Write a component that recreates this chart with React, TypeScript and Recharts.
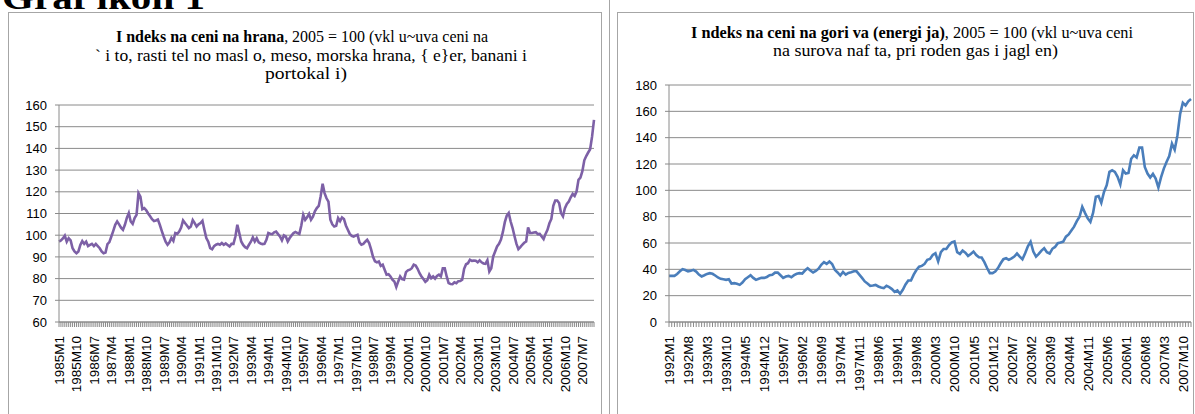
import React from 'react';
import { LineChart, Line, XAxis, YAxis, CartesianGrid } from 'recharts';

// Food price index, 2005 = 100, monthly from 1985M1 (one row per year)
const foodIndex = [
  97.1, 97.6, 98.5, 99.8, 97.0, 98.6, 97.6, 94.0, 92.5, 91.7, 92.5, 95.5,
  97.3, 96.0, 97.0, 95.0, 95.5, 96.0, 95.0, 96.0, 95.0, 94.0, 92.5, 91.7,
  92.0, 95.9, 96.8, 99.4, 102.0, 104.8, 106.3, 105.0, 103.5, 102.5, 104.8, 108.0,
  110.2, 106.3, 105.2, 107.9, 109.4, 119.4, 117.8, 112.0, 112.5, 111.5, 110.0, 108.7,
  107.4, 106.5, 106.8, 107.2, 104.8, 102.0, 99.4, 97.0, 95.6, 96.7, 98.7, 97.4,
  101.0, 100.6, 101.7, 103.5, 106.8, 105.6, 104.5, 103.3, 104.0, 107.0, 105.6, 104.0,
  105.0, 105.6, 106.6, 102.5, 98.7, 97.0, 94.0, 93.5, 95.0, 95.6, 96.0, 95.6,
  96.4, 95.6, 96.2, 95.5, 94.8, 96.0, 96.0, 99.4, 104.8, 101.0, 97.1, 95.5,
  94.5, 94.0, 95.6, 97.0, 99.0, 97.1, 98.6, 96.7, 96.2, 95.9, 96.0, 97.9,
  101.0, 100.7, 100.5, 101.3, 101.7, 100.5, 99.4, 97.6, 99.9, 99.4, 97.1, 98.7,
  99.9, 101.0, 101.5, 101.0, 100.6, 104.5, 109.4, 107.1, 108.3, 109.8, 107.1, 108.5,
  111.0, 112.5, 113.5, 118.0, 123.7, 119.4, 117.0, 115.5, 107.1, 105.0, 104.0, 104.3,
  107.9, 106.5, 108.2, 107.5, 104.5, 102.5, 100.6, 99.7, 99.4, 99.8, 100.2, 96.7,
  95.6, 96.0, 97.0, 97.9, 96.4, 93.5, 90.0, 88.0, 87.5, 87.9, 85.9, 86.4,
  84.1, 81.8, 82.0, 81.0, 79.5, 78.7, 76.1, 78.7, 81.0, 79.8, 79.5, 83.0,
  83.8, 84.1, 84.8, 86.4, 86.0, 84.5, 82.5, 81.0, 79.8, 78.5, 79.2, 81.8,
  80.2, 81.0, 80.0, 81.2, 81.8, 81.0, 84.8, 84.8, 81.0, 77.9, 77.5, 77.4,
  78.3, 77.9, 78.8, 78.9, 79.5, 84.5, 86.6, 87.1, 88.7, 88.2, 88.3, 88.2,
  87.5, 88.4, 87.5, 87.0, 86.8, 88.5, 83.3, 84.8, 90.2, 92.5, 94.8, 96.0,
  98.0, 101.5, 106.0, 109.0, 110.2, 106.3, 103.3, 99.5, 96.0, 93.6, 94.5, 95.6,
  96.5, 97.1, 103.6, 101.0, 101.0, 101.2, 101.4, 100.5, 100.6, 99.4, 98.2, 100.6,
  102.5, 105.5, 107.5, 113.5, 116.0, 116.0, 114.8, 110.2, 108.7, 112.5, 114.4, 115.5,
  117.5, 119.0, 118.1, 120.1, 125.5, 126.5, 129.5, 134.5, 136.5, 138.1, 139.6, 145.4,
  153.1,
];

// Energy price index, 2005 = 100, monthly from 1992M1 (one row per year)
const energyIndex = [
  35.0, 35.0, 35.0, 36.5, 38.5, 40.1, 39.5, 38.5, 39.0, 39.6, 38.3, 36.0,
  34.6, 35.5, 36.5, 37.1, 36.6, 35.3, 33.8, 32.8, 32.4, 32.0, 32.5, 29.2,
  29.5, 29.0, 28.2, 30.0, 32.5, 34.0, 35.5, 33.5, 32.0, 32.8, 33.5, 33.5,
  34.2, 35.5, 35.8, 37.5, 37.5, 35.5, 33.5, 34.5, 35.0, 34.0, 35.6, 36.6,
  37.1, 36.8, 39.1, 40.9, 39.1, 37.6, 38.8, 40.5, 43.5, 45.5, 44.1, 45.9,
  44.1, 39.6, 37.6, 35.3, 38.0, 36.0, 37.3, 37.8, 38.5, 38.5, 36.0, 33.5,
  30.8, 29.2, 27.5, 27.7, 28.2, 27.0, 26.2, 25.7, 27.5, 26.5, 25.0, 22.8,
  24.0, 21.4, 24.5, 28.5, 31.5, 31.5, 36.0, 39.5, 42.0, 42.6, 44.1, 47.2,
  47.9, 50.9, 52.2, 46.0, 53.0, 55.5, 55.5, 58.5, 60.5, 61.2, 53.0, 51.7,
  54.2, 52.7, 50.2, 51.7, 53.5, 50.9, 49.2, 49.0, 45.5, 41.0, 37.1, 37.1,
  38.3, 40.9, 44.6, 47.7, 48.4, 47.2, 48.4, 49.7, 52.0, 49.7, 47.7, 52.2,
  57.5, 61.0, 53.5, 49.7, 51.7, 54.2, 56.0, 53.0, 52.0, 55.6, 57.0, 59.8,
  60.3, 61.0, 64.8, 66.5, 69.5, 72.4, 76.6, 79.9, 87.5, 82.9, 78.7, 76.0,
  83.0, 95.1, 95.6, 90.5, 98.8, 103.9, 114.0, 115.2, 114.0, 110.2, 104.5, 115.2,
  112.7, 113.2, 124.0, 126.6, 125.0, 132.4, 132.4, 117.7, 112.7, 109.7, 112.5, 108.9,
  102.1, 110.0, 116.5, 121.5, 126.0, 135.4, 130.8, 141.7, 158.0, 166.5, 164.5, 167.6,
  169.4,
];

const foodTicks = [60, 70, 80, 90, 100, 110, 120, 130, 140, 150, 160];
const energyTicks = [0, 20, 40, 60, 80, 100, 120, 140, 160, 180];

const monthLabels = (startYear: number, count: number) =>
  Array.from({ length: count }, (_, i) => `${startYear + Math.floor(i / 12)}M${(i % 12) + 1}`);

const foodMonths = monthLabels(1985, foodIndex.length);
const energyMonths = monthLabels(1992, energyIndex.length);

const foodData = foodMonths.map((month, i) => ({ month, value: foodIndex[i] }));
const energyData = energyMonths.map((month, i) => ({ month, value: energyIndex[i] }));

const GRID = '#8a8a8a';
const SANS = '"Liberation Sans", Arial, sans-serif';
const SERIF = '"Liberation Serif", "Times New Roman", serif';

// every category gets a tick mark, only every n-th one gets a label
const MonthTick = (props: any) => {
  const { x, y, payload, every } = props;
  const idx = payload?.index ?? props.index;
  if (idx % every !== 0) return <g />;
  return (
    <text
      transform={`translate(${x + 5},${y + 7}) rotate(-90)`}
      textAnchor="end"
      fontSize={13.5}
      fontFamily={SANS}
      fill="#000"
    >
      {payload.value}
    </text>
  );
};

const yTick = { fontSize: 13, fill: '#000', fontFamily: SANS };

const App: React.FC = () => {
  return (
    <div style={{ position: 'absolute', left: 0, top: 0, width: 1195, height: 414, overflow: 'hidden', background: '#fff' }}>
      {/* frames */}
      <div style={{ position: 'absolute', left: 8, top: 12, width: 592, height: 420, border: '1px solid #a6a6a6' }} />
      <div style={{ position: 'absolute', left: 609, top: 0, width: 0, height: 414, borderLeft: '1px solid #a6a6a6' }} />
      <div style={{ position: 'absolute', left: 617, top: 12, width: 575, height: 420, border: '1px solid #a6a6a6' }} />

      <div style={{ position: 'absolute', left: 0, top: 0 }}>
        <LineChart width={600} height={414} data={foodData} margin={{ top: 105, right: 6, bottom: 0, left: 0 }}>
          <CartesianGrid vertical={false} stroke={GRID} />
          <XAxis
            dataKey="month"
            interval={0}
            height={92}
            tickSize={5}
            tickLine={{ stroke: GRID }}
            axisLine={{ stroke: GRID }}
            tick={(p: any) => <MonthTick {...p} every={9} />}
          />
          <YAxis
            width={59}
            domain={[60, 160]}
            ticks={foodTicks}
            interval={0}
            tickSize={4}
            tickMargin={8}
            tick={yTick}
            tickLine={{ stroke: GRID }}
            axisLine={{ stroke: GRID }}
          />
          <Line type="linear" dataKey="value" stroke="#7d60a6" strokeWidth={2.6} dot={false} isAnimationActive={false} />
        </LineChart>
      </div>

      <div style={{ position: 'absolute', left: 600, top: 0 }}>
        <LineChart width={595} height={414} data={energyData} margin={{ top: 85, right: 4, bottom: 0, left: 0 }}>
          <CartesianGrid vertical={false} stroke={GRID} />
          <XAxis
            dataKey="month"
            interval={0}
            height={92}
            tickSize={5}
            tickLine={{ stroke: GRID }}
            axisLine={{ stroke: GRID }}
            tick={(p: any) => <MonthTick {...p} every={7} />}
          />
          <YAxis
            width={69}
            domain={[0, 180]}
            ticks={energyTicks}
            interval={0}
            tickSize={4}
            tickMargin={8}
            tick={yTick}
            tickLine={{ stroke: GRID }}
            axisLine={{ stroke: GRID }}
          />
          <Line type="linear" dataKey="value" stroke="#4a7ebb" strokeWidth={2.6} dot={false} isAnimationActive={false} />
        </LineChart>
      </div>

      {/* titles */}
      <svg width={1195} height={414} style={{ position: 'absolute', left: 0, top: 0, pointerEvents: 'none' }}>
        <text x={2} y={9} fontFamily={SERIF} fontSize={34} fontWeight="bold" fill="#000" textLength={203} lengthAdjust="spacingAndGlyphs">
          Graf ikon 1
        </text>
        <g fontFamily={SERIF} fontSize={17} fill="#000">
          <text x={116} y={42} textLength={372} lengthAdjust="spacingAndGlyphs">
            <tspan fontWeight="bold">I ndeks na ceni na hrana</tspan>, 2005 = 100 (vkl u~uva ceni na
          </text>
          <text x={95} y={61} textLength={432} lengthAdjust="spacingAndGlyphs">
            ` i to, rasti tel no masl o, meso, morska hrana, {'{'} e{'}'}er, banani i
          </text>
          <text x={265} y={79} textLength={82} lengthAdjust="spacingAndGlyphs">
            portokal i)
          </text>
          <text x={691} y={38} textLength={442} lengthAdjust="spacingAndGlyphs">
            <tspan fontWeight="bold">I ndeks na ceni na gori va (energi ja)</tspan>, 2005 = 100 (vkl u~uva ceni
          </text>
          <text x={773} y={56} textLength={285} lengthAdjust="spacingAndGlyphs">
            na surova naf ta, pri roden gas i jagl en)
          </text>
        </g>
      </svg>
    </div>
  );
};

export default App;
